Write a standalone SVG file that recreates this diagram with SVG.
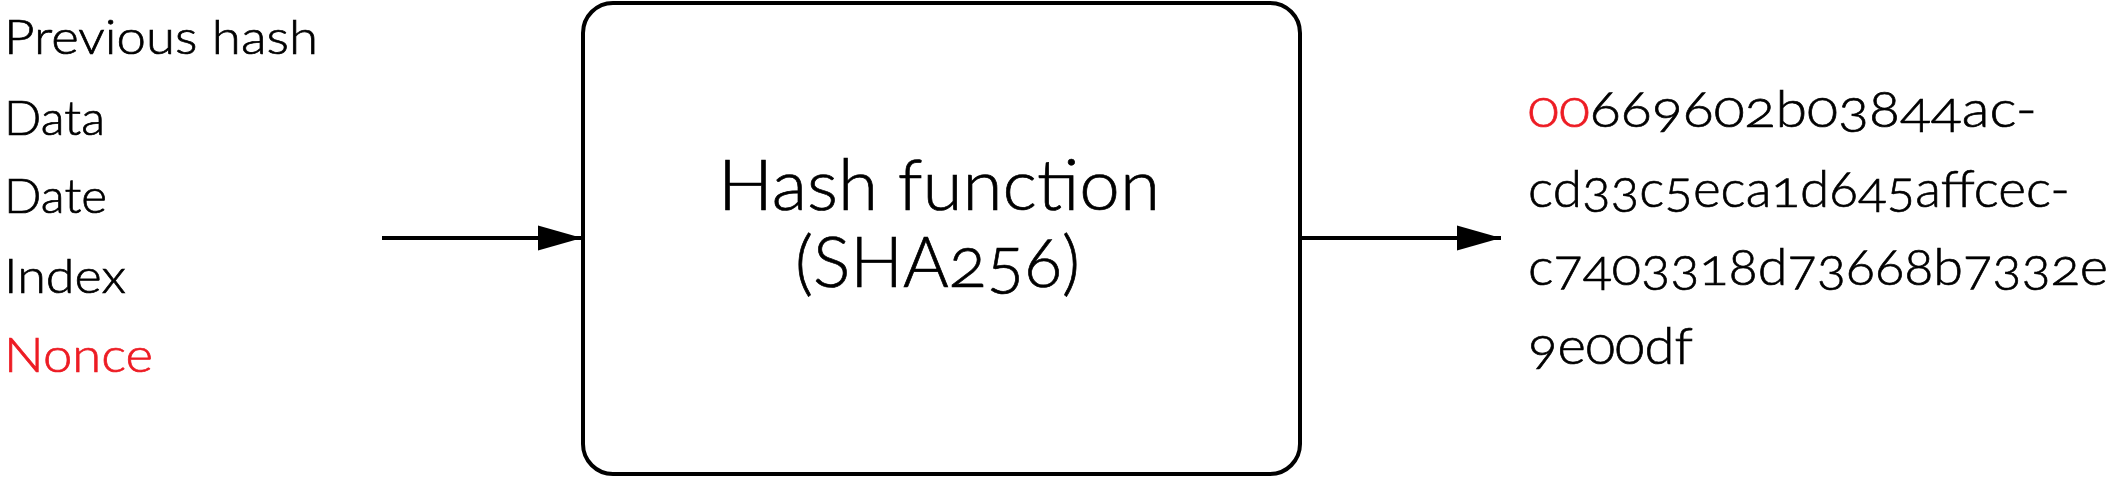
<svg xmlns="http://www.w3.org/2000/svg" width="2111" height="477" viewBox="0 0 2111 477">
<style>
text{font-family:Lato,"Open Sans","Liberation Sans",sans-serif;font-weight:300;fill:#000;stroke:#000;stroke-width:0.7;font-variant-numeric:oldstyle-nums}
.in{font-size:48px}
.out{font-size:52px}
.ctr{font-size:70px}
.red{fill:#ED1C24;stroke:#ED1C24}
.edge{stroke:#000;stroke-width:4;fill:none}
</style>
<defs>
<marker id="ah" markerUnits="userSpaceOnUse" markerWidth="46" markerHeight="28" refX="44" refY="14" orient="auto">
<path d="M0,1.5 L44,14 L0,26.5 Z" fill="#000"/>
</marker>
</defs>
<g id="inputs">
<text class="in" x="4" y="54" textLength="314" lengthAdjust="spacingAndGlyphs">Previous hash</text>
<text class="in" x="4" y="135" textLength="101" lengthAdjust="spacingAndGlyphs">Data</text>
<text class="in" x="4" y="213" textLength="103" lengthAdjust="spacingAndGlyphs">Date</text>
<text class="in" x="4" y="293" textLength="122" lengthAdjust="spacingAndGlyphs">Index</text>
<text class="in red" x="4" y="372" textLength="149" lengthAdjust="spacingAndGlyphs">Nonce</text>
</g>
<g id="hashfn">
<rect x="583" y="3" width="717" height="471" rx="30" ry="30" fill="#fff" stroke="#000" stroke-width="4"/>
<text class="ctr" x="718" y="210" textLength="442" lengthAdjust="spacingAndGlyphs">Hash function</text>
<text class="ctr" x="795" y="287" textLength="285" lengthAdjust="spacingAndGlyphs">(SHA256)</text>
</g>
<g id="output">
<text class="out" x="1528" y="127" textLength="509" lengthAdjust="spacingAndGlyphs"><tspan class="red">00</tspan>669602b03844ac-</text>
<text class="out" x="1528" y="207" textLength="542" lengthAdjust="spacingAndGlyphs">cd33c5eca1d645affcec-</text>
<text class="out" x="1528" y="285" textLength="580" lengthAdjust="spacingAndGlyphs">c7403318d73668b7332e</text>
<text class="out" x="1528" y="364" textLength="165" lengthAdjust="spacingAndGlyphs">9e00df</text>
</g>
<g id="connectors">
<line class="edge" x1="382" y1="238" x2="582" y2="238" marker-end="url(#ah)"/>
<line class="edge" x1="1300" y1="238" x2="1501" y2="238" marker-end="url(#ah)"/>
</g>
</svg>
